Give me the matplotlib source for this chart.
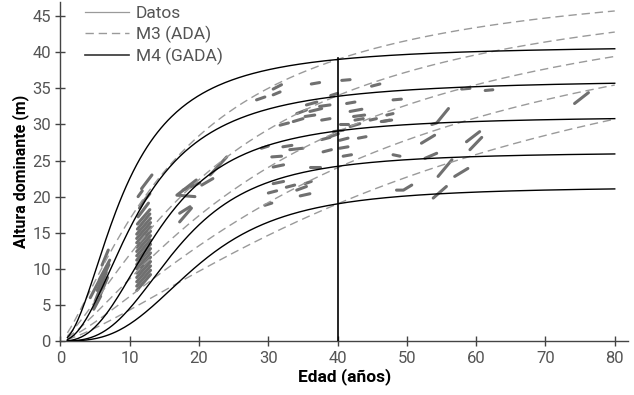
import numpy as np
import matplotlib.pyplot as plt
from matplotlib.lines import Line2D

plt.rcParams['font.family'] = ['Roboto', 'DejaVu Sans']

# site index at base age 40 (years)
site_index = [19, 24, 29, 34, 39]
base_age = 40

# M4 (GADA) curves, Hossfeld form H = A / (1 + k t^-c), one set per site
gada_A = [21.4, 26.19, 31.17, 36.28, 41.0]
gada_k = [8084, 4068, 942.7, 174.9, 82.1]
gada_c = [3.0, 2.93, 2.573, 2.12, 2.0]

# M3 (ADA) curves, common asymptote and shape, k per site
ada_A = 51.5
ada_c = 1.34
ada_k = [239.8, 160.6, 108.8, 72.2, 44.9]

datos = [
    # young plots, age 4-7
    [(4.3, 6.0), (5.6, 8.4)], [(5.0, 5.5), (6.6, 9.5)], [(5.3, 7.0), (7.0, 10.6)],
    [(5.6, 8.5), (7.1, 11.2)], [(5.8, 6.5), (6.8, 8.8)], [(4.8, 4.4), (5.8, 6.2)],
    [(6.0, 10.5), (6.9, 12.6)],
    # dense block at age 11-13
    [(11.0, 7.0), (13.0, 9.2)], [(11.0, 7.6), (13.0, 9.8)], [(11.0, 8.2), (13.0, 10.4)],
    [(11.0, 8.8), (13.0, 11.0)], [(11.0, 9.4), (13.0, 11.6)], [(11.0, 10.0), (13.0, 12.2)],
    [(11.0, 10.6), (13.0, 12.8)], [(11.0, 11.2), (13.0, 13.4)], [(11.0, 11.8), (13.0, 14.0)],
    [(11.0, 12.4), (13.0, 14.6)], [(11.0, 13.0), (13.0, 15.2)], [(11.0, 13.6), (13.0, 15.8)],
    [(11.0, 14.2), (13.0, 16.4)], [(11.0, 14.8), (13.0, 17.0)], [(11.1, 15.5), (12.9, 17.6)],
    [(11.1, 16.2), (12.9, 18.2)], [(11.2, 17.2), (12.7, 19.1)],
    [(11.4, 18.4), (12.2, 19.6), (12.9, 20.4)],
    [(11.7, 21.1), (13.2, 23.0)], [(11.2, 20.0), (11.8, 20.8)],
    # age 17-24
    [(19.6, 22.3), (16.8, 20.2), (19.4, 20.0)], [(17.7, 20.9), (20.1, 21.9)],
    [(20.4, 21.6), (22.0, 22.5)], [(21.6, 23.0), (24.0, 25.5)],
    [(17.2, 16.5), (18.9, 18.4)], [(17.2, 17.7), (18.7, 18.6)],
    # age 28-50, short remeasurement intervals
    [(36.2, 35.6), (37.4, 35.8)], [(40.6, 36.1), (41.8, 36.2)], [(30.7, 34.9), (31.9, 35.5)],
    [(28.3, 33.4), (29.5, 33.8)], [(30.7, 34.1), (31.7, 34.5)], [(44.9, 35.3), (46.1, 35.6)],
    [(48.0, 33.4), (49.2, 33.5)], [(41.3, 32.9), (42.5, 33.1)],
    [(35.5, 32.7), (37.0, 33.1)], [(36.0, 31.8), (37.7, 32.2)], [(35.3, 31.1), (36.7, 31.3)],
    [(37.4, 32.5), (38.9, 32.7)], [(37.7, 30.6), (38.9, 30.8)], [(33.6, 30.4), (35.0, 30.8)],
    [(31.7, 29.9), (32.9, 30.2)], [(41.8, 31.8), (43.5, 32.1)], [(42.3, 31.1), (43.9, 31.3)],
    [(42.5, 30.6), (43.7, 30.8)], [(44.7, 30.6), (45.6, 30.8)], [(46.3, 30.4), (47.8, 30.6)],
    [(47.1, 31.3), (48.0, 31.5)], [(40.3, 30.1), (41.5, 30.1)], [(41.8, 29.7), (43.2, 30.1)],
    [(34.1, 31.5), (35.5, 32.0)], [(39.0, 34.0), (40.0, 34.3)],
    [(38.9, 28.3), (40.1, 28.7)], [(37.7, 27.9), (38.9, 28.2)], [(40.3, 27.8), (41.5, 28.1)],
    [(43.0, 28.1), (44.1, 28.3)], [(39.4, 29.0), (40.8, 29.2)],
    [(29.0, 26.7), (30.0, 27.0)], [(32.1, 26.9), (33.4, 27.1)], [(33.1, 26.5), (35.0, 26.7)],
    [(30.5, 25.5), (31.9, 25.6)], [(30.7, 24.1), (32.2, 24.4)], [(36.0, 24.1), (37.4, 24.1)],
    [(37.9, 26.2), (39.1, 26.5)], [(40.3, 26.7), (41.5, 26.9)], [(40.8, 25.6), (42.0, 25.8)],
    [(48.0, 25.8), (49.0, 25.6)],
    [(30.7, 21.8), (32.2, 22.1)], [(30.0, 20.5), (31.2, 20.8)], [(32.6, 21.3), (33.8, 21.6)],
    [(34.1, 20.9), (35.5, 21.4)], [(34.6, 20.1), (36.0, 20.4)], [(35.3, 21.8), (36.2, 22.1)],
    [(29.5, 18.8), (30.5, 19.1)],
    # older plots, age 46-77
    [(46.5, 30.4), (47.5, 30.6)], [(57.9, 34.9), (59.1, 35.0)], [(61.3, 34.7), (62.4, 34.8)],
    [(74.2, 32.9), (76.2, 34.4)],
    [(52.1, 27.4), (54.0, 28.5)], [(53.6, 30.0), (54.3, 30.2), (56.0, 32.2)],
    [(52.6, 25.3), (54.3, 26.0)], [(54.5, 22.8), (56.5, 25.1)], [(56.9, 22.8), (58.8, 23.9)],
    [(58.6, 27.6), (60.5, 29.0)], [(59.1, 26.5), (60.8, 28.2)],
    [(48.5, 20.9), (49.5, 20.9), (50.7, 21.6)], [(53.8, 19.8), (55.7, 21.4)],
]

fig = plt.figure(figsize=(6.34, 3.95), dpi=100)
ax = fig.add_axes([0.0954, 0.1367, 0.895, 0.859])

ages = np.arange(1, 80.01, 0.25)

for seg in datos:
    a, h = zip(*seg)
    ax.plot(a, h, color='#707070', lw=2.2, solid_capstyle='round', zorder=2)

for k in ada_k:
    ax.plot(ages, ada_A / (1 + k * ages ** -ada_c), color='#9a9a9a', lw=1.0,
            dashes=(6, 3.5), zorder=3)

for A, k, c in zip(gada_A, gada_k, gada_c):
    ax.plot(ages, A / (1 + k * ages ** -c), color='black', lw=1.0, zorder=4)

ax.plot([base_age, base_age], [0, max(site_index) + 0.2], color='black', lw=1.2, zorder=4)

ax.set_xlim(0, 81.9)
ax.set_ylim(0, 47)
ax.set_xticks(range(0, 81, 10))
ax.set_yticks(range(0, 46, 5))
for s in ['top', 'right']:
    ax.spines[s].set_visible(False)
for s in ['left', 'bottom']:
    ax.spines[s].set_color('#444444')
    ax.spines[s].set_linewidth(1.0)
ax.tick_params(direction='inout', length=7, width=1, color='#444444',
               labelsize=12, labelcolor='#555555')
ax.set_xlabel('Edad (años)', fontsize=12.5, fontweight='bold', labelpad=2)
ax.set_ylabel('Altura dominante (m)', fontsize=11.5, fontweight='bold', labelpad=2)

handles = [
    Line2D([], [], color='#9a9a9a', lw=0.9),
    Line2D([], [], color='#9a9a9a', lw=1.0, dashes=(6, 3.5)),
    Line2D([], [], color='#333333', lw=1.2),
]
ax.legend(handles, ['Datos', 'M3 (ADA)', 'M4 (GADA)'], loc='upper left',
          bbox_to_anchor=(0.016, 1.035), frameon=False, fontsize=12.5,
          handlelength=2.5, labelspacing=0.27, handletextpad=0.4,
          labelcolor='#555555')

fig.savefig('out.png', dpi=100)
